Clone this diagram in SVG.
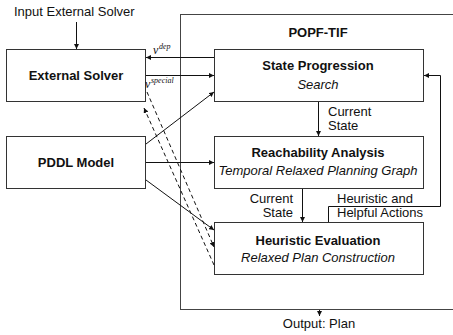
<svg xmlns="http://www.w3.org/2000/svg" width="453" height="335" viewBox="0 0 453 335">
<style>
.box{fill:#fff;stroke:#333;stroke-width:1}
.frame{fill:none;stroke:#444;stroke-width:1}
.ln{fill:none;stroke:#111;stroke-width:1}
.dash{fill:none;stroke:#111;stroke-width:1;stroke-dasharray:4 3}
text{font-family:"Liberation Sans",Arial,sans-serif;font-size:13px;fill:#111}
.b{font-weight:bold}
.i{font-style:italic}
.m{text-anchor:middle}
.e{text-anchor:end}
.v{font-family:"Liberation Serif","Times New Roman",serif;font-style:italic;font-size:12px}
.s{font-family:"Liberation Serif","Times New Roman",serif;font-style:italic;font-size:8px}
</style>
<defs>
<marker id="a" viewBox="0 0 6 6" refX="6" refY="3" markerWidth="5" markerHeight="5" markerUnits="userSpaceOnUse" orient="auto">
<path d="M0,0 L6,3 L0,6 z" fill="#111"/>
</marker>
</defs>

<g id="popf-tif">
<rect class="frame" x="180.5" y="14.5" width="300" height="295"/>
<text class="b m" x="318" y="37">POPF-TIF</text>
</g>

<g id="input-label">
<text x="14" y="16">Input External Solver</text>
</g>

<g id="external-solver">
<rect class="box" x="6.5" y="49.5" width="139" height="52"/>
<text class="b m" x="76" y="80">External Solver</text>
</g>

<g id="pddl-model">
<rect class="box" x="6.5" y="136.5" width="139" height="52"/>
<text class="b m" x="76" y="167">PDDL Model</text>
</g>

<g id="state-progression">
<rect class="box" x="214.5" y="49.5" width="209" height="52"/>
<text class="b m" x="318" y="70">State Progression</text>
<text class="i m" x="318" y="89">Search</text>
</g>

<g id="reachability-analysis">
<rect class="box" x="214.5" y="136.5" width="209" height="52"/>
<text class="b m" x="318" y="157">Reachability Analysis</text>
<text class="i m" x="318" y="175">Temporal Relaxed Planning Graph</text>
</g>

<g id="heuristic-evaluation">
<rect class="box" x="214.5" y="222.5" width="209" height="52"/>
<text class="b m" x="318" y="245">Heuristic Evaluation</text>
<text class="i m" x="318" y="262">Relaxed Plan Construction</text>
</g>

<g id="output-label">
<text class="m" x="319" y="328">Output: Plan</text>
</g>

<g id="connectors">
<path class="ln" d="M76.5,22 V49" marker-end="url(#a)"/>
<path class="ln" d="M214,57.5 H146" marker-end="url(#a)"/>
<path class="ln" d="M146,75.5 H214" marker-end="url(#a)"/>
<path class="ln" d="M146,144 L214,92" marker-end="url(#a)"/>
<path class="ln" d="M146,162.5 H214" marker-end="url(#a)"/>
<path class="ln" d="M146,180 L214,230" marker-end="url(#a)"/>
<path class="dash" d="M147,92 L214,247" marker-end="url(#a)"/>
<path class="dash" d="M214,265 L144,108" marker-end="url(#a)"/>
<path class="ln" d="M318.5,102 V136" marker-end="url(#a)"/>
<path class="ln" d="M302.5,189 V222" marker-end="url(#a)"/>
<path class="ln" d="M328.5,222 V206.5 H440.5 V75.5 H424" marker-end="url(#a)"/>
<path class="ln" d="M319.5,310 V316" marker-end="url(#a)"/>
<text class="v" x="153" y="54">v</text><text class="s" x="159" y="49">dep</text>
<text class="v" x="145" y="88">v</text><text class="s" x="151" y="83">special</text>
<text x="328" y="116">Current</text>
<text x="328" y="130">State</text>
<text class="e" x="293" y="203">Current</text>
<text class="e" x="293" y="217">State</text>
<text x="337" y="203">Heuristic and</text>
<text x="337" y="217">Helpful Actions</text>
</g>
</svg>
